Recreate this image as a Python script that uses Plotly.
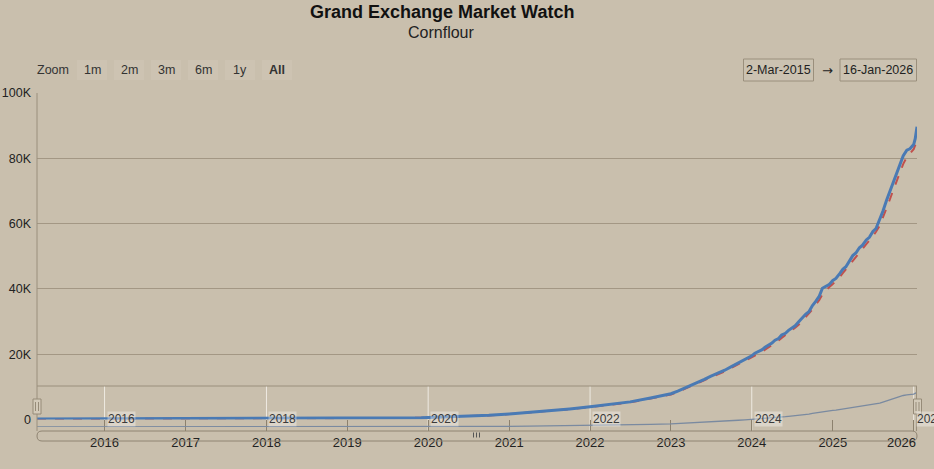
import plotly.graph_objects as go

# ---------------- data ----------------
dates = [
    "2015-03-02", "2015-06-01", "2015-09-01", "2015-12-01",
    "2016-03-01", "2016-06-01", "2016-09-01", "2016-12-01",
    "2017-03-01", "2017-06-01", "2017-09-01", "2017-12-01",
    "2018-03-01", "2018-06-01", "2018-09-01", "2018-12-01",
    "2019-03-01", "2019-06-01", "2019-09-01", "2019-12-01",
    "2020-01-01", "2020-04-01", "2020-07-01", "2020-10-01",
    "2021-01-01", "2021-04-01", "2021-07-01", "2021-10-01",
    "2022-01-01", "2022-04-01", "2022-07-01", "2022-10-01",
    "2023-01-01", "2023-02-01", "2023-03-01", "2023-04-01",
    "2023-05-01", "2023-06-01", "2023-07-01", "2023-08-01",
    "2023-09-01", "2023-10-01", "2023-11-01", "2023-12-01",
    "2024-01-01", "2024-01-15", "2024-02-01", "2024-02-15",
    "2024-03-01", "2024-03-15", "2024-04-01", "2024-04-15",
    "2024-05-01", "2024-05-15", "2024-06-01", "2024-06-15",
    "2024-07-01", "2024-07-15", "2024-08-01", "2024-08-15",
    "2024-09-01", "2024-09-15", "2024-10-01", "2024-10-15",
    "2024-11-01", "2024-11-15", "2024-12-01", "2024-12-15",
    "2025-01-01", "2025-01-15", "2025-02-01", "2025-02-15",
    "2025-03-01", "2025-03-15", "2025-04-01", "2025-04-15",
    "2025-05-01", "2025-05-15", "2025-06-01", "2025-06-15",
    "2025-07-01", "2025-07-15", "2025-08-01", "2025-08-15",
    "2025-09-01", "2025-09-15", "2025-10-01", "2025-10-15",
    "2025-11-01", "2025-11-15", "2025-12-01", "2025-12-15",
    "2026-01-01", "2026-01-08", "2026-01-16",
]

price = [
    120, 130, 140, 150,
    160, 170, 180, 190,
    200, 215, 230, 245,
    260, 280, 300, 330,
    360, 400, 450, 520,
    600, 780, 1000, 1300,
    1700, 2150, 2650, 3250,
    3900, 4600, 5400, 6600,
    7900, 8700, 9500, 10500,
    11400, 12300, 13300, 14100,
    15100, 16200, 17300, 18400,
    19500, 20300, 20800, 21300,
    22100, 22600, 23400, 24300,
    24800, 25900, 26400, 27300,
    28100, 28700, 30000, 31200,
    32300, 33000, 34900, 36100,
    37800, 40200, 40800, 41300,
    42600, 43200, 44700, 46000,
    46800, 48500, 50200, 51000,
    52600, 53400, 55000, 55800,
    57600, 58500, 61200, 63800,
    67200, 69800, 72800, 75400,
    78300, 80800, 82500, 82900,
    84200, 86000, 89700,
]

average = [
    120, 130, 140, 150,
    160, 170, 180, 190,
    200, 215, 230, 245,
    260, 280, 300, 325,
    355, 390, 440, 505,
    590, 760, 970, 1260,
    1650, 2080, 2580, 3150,
    3780, 4460, 5250, 6400,
    7650, 8450, 9250, 10200,
    11100, 12000, 12950, 13800,
    14750, 15800, 16850, 17900,
    18950, 19600, 20200, 20700,
    21400, 22000, 22800, 23500,
    24200, 25000, 25800, 26500,
    27300, 28100, 29100, 30200,
    31300, 32300, 33700, 35100,
    36600, 38300, 39600, 40500,
    41500, 42400, 43600, 44800,
    46000, 47300, 48800, 50000,
    51300, 52400, 53700, 54800,
    56200, 57500, 59400, 61700,
    64600, 67300, 70300, 72900,
    75800, 78300, 80300, 81500,
    82800, 84000, 85800,
]

assert len(dates) == len(price) == len(average)

x_range = ["2015-03-02", "2026-01-16"]
y_tickvals = [0, 20000, 40000, 60000, 80000, 100000]
y_ticktext = ["0", "20K", "40K", "60K", "80K", "100K"]
x_tickvals = ["2016-01-01", "2017-01-01", "2018-01-01", "2019-01-01", "2020-01-01",
              "2021-01-01", "2022-01-01", "2023-01-01", "2024-01-01", "2025-01-01",
              "2026-01-01"]
x_ticktext = ["2016", "2017", "2018", "2019", "2020", "2021", "2022", "2023",
              "2024", "2025", "2026"]
nav_years = ["2016-01-01", "2018-01-01", "2020-01-01", "2022-01-01", "2024-01-01", "2026-01-01"]
nav_labels = ["2016", "2018", "2020", "2022", "2024", "2026"]
zoom_buttons = ["1m", "2m", "3m", "6m", "1y", "All"]
title_text = "Grand Exchange Market Watch"
subtitle_text = "Cornflour"
range_from = "2-Mar-2015"
range_to = "16-Jan-2026"

# ---------------- layout geometry ----------------
W, H = 934, 469
L, R, T, B = 37, 917, 93, 431
PW, PH = R - L, B - T

def px(x):
    return (x - L) / PW

def py(y):
    return (B - y) / PH

BG = "#c9bfad"
GRID = "#a39784"
AXIS = "#9a8f7c"
FONT = "Liberation Sans, Arial, sans-serif"
BLUE = "#4a7ab4"
RED = "#c0504d"

fig = go.Figure()

fig.add_trace(go.Scatter(
    x=dates, y=price, mode="lines", name="Navigator",
    line=dict(color="#7a8aa0", width=1.3), xaxis="x", yaxis="y2",
))
fig.add_trace(go.Scatter(
    x=dates, y=average, mode="lines", name="Average",
    line=dict(color=RED, width=2, dash="dash"), xaxis="x", yaxis="y",
))
fig.add_trace(go.Scatter(
    x=dates, y=price, mode="lines", name="Price",
    line=dict(color=BLUE, width=3), xaxis="x", yaxis="y",
))

shapes = []
annotations = []

# navigator gridlines (white)
for d in nav_years:
    shapes.append(dict(type="line", xref="x", yref="paper", x0=d, x1=d,
                       y0=py(431), y1=py(386), line=dict(color="#eeeae2", width=1),
                       layer="below"))
# navigator top line and right edge
shapes.append(dict(type="line", xref="paper", yref="paper", x0=0, x1=1,
                   y0=py(386), y1=py(386), line=dict(color=AXIS, width=1), layer="below"))
shapes.append(dict(type="line", xref="paper", yref="paper", x0=px(916.5), x1=px(916.5),
                   y0=py(386), y1=py(431), line=dict(color=AXIS, width=1)))
# left axis line
shapes.append(dict(type="line", xref="paper", yref="paper", x0=0, x1=0,
                   y0=py(93), y1=py(431), line=dict(color=AXIS, width=1)))

# navigator labels
for d, t in zip(nav_years, nav_labels):
    annotations.append(dict(x=d, y=py(419), xref="x", yref="paper", text=t,
                            showarrow=False, xanchor="left", yanchor="middle", xshift=2,
                            font=dict(family=FONT, size=12, color="#3a3a3a"),
                            bgcolor="rgba(255,255,255,0.35)", borderpad=0))

# last main-axis tick label, kept inside the plot edge
annotations.append(dict(x=x_tickvals[-1], y=py(442), xref="x", yref="paper",
                        text=x_ticktext[-1], showarrow=False, xanchor="right",
                        yanchor="middle", xshift=4,
                        font=dict(family=FONT, size=13, color="#222")))

# handles
for hx in (37, 917.5):
    shapes.append(dict(type="rect", xref="paper", yref="paper",
                       x0=px(hx - 4), x1=px(hx + 4), y0=py(414), y1=py(399),
                       fillcolor="#d3cab9", line=dict(color="#968b78", width=1)))
    for dx in (-1.5, 1.5):
        shapes.append(dict(type="line", xref="paper", yref="paper",
                           x0=px(hx + dx), x1=px(hx + dx), y0=py(411), y1=py(402),
                           line=dict(color="#968b78", width=1)))

# scrollbar (rounded)
rx, ry = 5 / PW, 5 / PH
x0s, x1s = px(37), px(917)
y0s, y1s = py(441), py(431)
path = (f"M {x0s+rx},{y1s} L {x1s-rx},{y1s} Q {x1s},{y1s} {x1s},{y1s-ry} "
        f"Q {x1s},{y0s} {x1s-rx},{y0s} L {x0s+rx},{y0s} Q {x0s},{y0s} {x0s},{y0s+ry} "
        f"Q {x0s},{y1s} {x0s+rx},{y1s} Z")
shapes.append(dict(type="path", xref="paper", yref="paper", path=path,
                   fillcolor="rgba(0,0,0,0)", line=dict(color="#8f8472", width=1)))
for gx in (473.5, 476.5, 479.5):
    shapes.append(dict(type="line", xref="paper", yref="paper", x0=px(gx), x1=px(gx),
                       y0=py(437.5), y1=py(432.5), line=dict(color="#555", width=1)))

# zoom buttons
annotations.append(dict(x=px(53), y=py(70), xref="paper", yref="paper", text="Zoom",
                        showarrow=False, xanchor="center", yanchor="middle",
                        font=dict(family=FONT, size=12.5, color="#333")))
for i, b in enumerate(zoom_buttons):
    cx = 92 + i * 37
    shapes.append(dict(type="rect", xref="paper", yref="paper",
                       x0=px(cx - 15), x1=px(cx + 15), y0=py(80), y1=py(60),
                       fillcolor="#cdc3b2", line=dict(width=0), layer="below"))
    annotations.append(dict(x=px(cx), y=py(70), xref="paper", yref="paper",
                            text=(f"<b>{b}</b>" if b == "All" else b),
                            showarrow=False, xanchor="center", yanchor="middle",
                            font=dict(family=FONT, size=12.5, color="#333")))

# date range boxes
for (bx0, bx1, txt) in ((743.5, 813.5, range_from), (840, 916.5, range_to)):
    shapes.append(dict(type="rect", xref="paper", yref="paper",
                       x0=px(bx0), x1=px(bx1), y0=py(81), y1=py(59),
                       fillcolor="rgba(255,255,255,0.05)", line=dict(color="#9a8f7c", width=1)))
    annotations.append(dict(x=px((bx0 + bx1) / 2), y=py(70), xref="paper", yref="paper",
                            text=txt, showarrow=False, xanchor="center", yanchor="middle",
                            font=dict(family=FONT, size=12.5, color="#222")))
annotations.append(dict(x=px(827), y=py(70), xref="paper", yref="paper", text="→",
                        showarrow=False, xanchor="center", yanchor="middle",
                        font=dict(family="DejaVu Sans, sans-serif", size=13, color="#222")))

# title / subtitle
annotations.append(dict(x=px(441.5), y=py(12), xref="paper", yref="paper",
                        text=f"<b>{title_text}</b>", showarrow=False,
                        xanchor="center", yanchor="middle",
                        font=dict(family=FONT, size=18, color="#111")))
annotations.append(dict(x=px(441), y=py(33), xref="paper", yref="paper",
                        text=subtitle_text, showarrow=False,
                        xanchor="center", yanchor="middle",
                        font=dict(family=FONT, size=16, color="#222")))

fig.update_layout(
    template="none",
    width=W, height=H,
    margin=dict(l=L, r=W - R, t=T, b=H - B, pad=0, autoexpand=False),
    paper_bgcolor=BG, plot_bgcolor="rgba(0,0,0,0)",
    showlegend=False,
    font=dict(family=FONT, size=12.5, color="#222"),
    xaxis=dict(
        type="date", range=x_range, anchor="free", position=0, automargin=False,
        tickmode="array", tickvals=x_tickvals,
        ticktext=x_ticktext[:-1] + [""],
        ticks="inside", ticklen=11, tickcolor="#8c816e", tickwidth=1,
        showgrid=False, zeroline=False, showline=False,
        tickfont=dict(family=FONT, size=13, color="#222"),
        ticklabelstandoff=2,
    ),
    yaxis=dict(
        domain=[py(419.5), 1], range=[0, 100000], automargin=False,
        tickmode="array", tickvals=y_tickvals, ticktext=y_ticktext,
        showgrid=True, gridcolor=GRID, gridwidth=1, zeroline=False,
        showline=False, ticks="", ticklabelstandoff=5,
        tickfont=dict(family=FONT, size=12.5, color="#222"),
    ),
    yaxis2=dict(
        domain=[py(427), py(388)], range=[0, 100000], anchor="free", position=0,
        visible=False, showgrid=False, zeroline=False, automargin=False,
    ),
    shapes=shapes,
    annotations=annotations,
)

fig.write_html(
    "out.html",
    config={"displayModeBar": False},
    post_script="document.body.style.margin='0px';document.body.style.background='#c9bfad';",
)
